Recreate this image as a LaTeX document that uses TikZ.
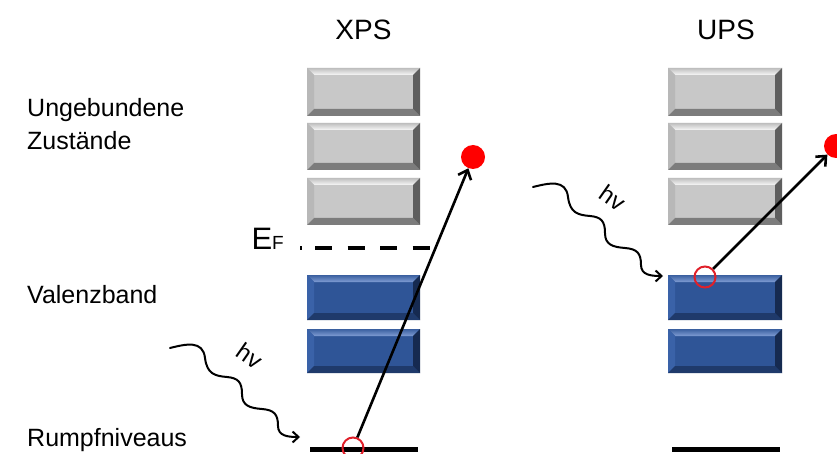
\documentclass[tikz,border=0pt]{standalone}
\usepackage{fontspec}
\setmainfont{Liberation Sans}
\usetikzlibrary{arrows.meta}
\definecolor{gbase}{HTML}{C8C8C8}
\definecolor{gtopo}{HTML}{BEBEBE}
\definecolor{gtopi}{HTML}{F8F8F8}
\definecolor{gleft}{HTML}{B8B8B8}
\definecolor{gbottom}{HTML}{7C7C7C}
\definecolor{gright}{HTML}{5E5E5E}
\definecolor{bbase}{HTML}{2F5597}
\definecolor{btopo}{HTML}{3A5F9F}
\definecolor{btopi}{HTML}{809DD4}
\definecolor{bleft}{HTML}{3A62A8}
\definecolor{bbottom}{HTML}{1F3A6B}
\definecolor{bright}{HTML}{162A50}
\definecolor{dotred}{HTML}{FF0000}
\definecolor{ringred}{HTML}{E0202A}
\newcommand\bv{7}
% name, cx, cy, w, h, prefix
\newcommand\bevbox[6]{%
  \node[boxnode, fill=#6base, minimum width=#4pt, minimum height=#5pt] (#1) at (#2,#3) {};
  \shade[top color=#6topo, bottom color=#6topi] (#1.north west) -- (#1.north east) -- ([shift={(-\bv,\bv)}]#1.north east) -- ([shift={(\bv,\bv)}]#1.north west) -- cycle;
  \fill[#6left] (#1.north west) -- ([shift={(\bv,\bv)}]#1.north west) -- ([shift={(\bv,-\bv)}]#1.south west) -- (#1.south west) -- cycle;
  \fill[#6bottom] (#1.south west) -- ([shift={(\bv,-\bv)}]#1.south west) -- ([shift={(-\bv,-\bv)}]#1.south east) -- (#1.south east) -- cycle;
  \fill[#6right] (#1.north east) -- ([shift={(-\bv,\bv)}]#1.north east) -- ([shift={(-\bv,-\bv)}]#1.south east) -- (#1.south east) -- cycle;
}
\tikzset{
  boxnode/.style={rectangle, inner sep=0pt, outer sep=0pt, draw=none},
  lbl/.style={inner sep=0pt, anchor=base west, font=\fontsize{25}{30}\selectfont},
  ttl/.style={inner sep=0pt, anchor=base, font=\fontsize{28}{32}\selectfont},
  hvlbl/.style={inner sep=0pt, font=\fontsize{24}{28}\selectfont},
  ring/.style={circle, draw=ringred, line width=2pt, minimum size=21pt, inner sep=0pt},
  dot/.style={circle, fill=dotred, minimum size=24pt, inner sep=0pt},
  level/.style={line width=5pt},
  efline/.style={line width=4pt, dash pattern=on 2pt off 13pt on 17pt off 15.5pt on 17pt off 15.5pt on 17pt off 15.5pt on 17pt off 20pt},
  photo/.style={line width=2.6pt, -{Straight Barb[length=8pt,width=14pt]}},
  wave/.style={line width=2pt, line cap=round, -{Straight Barb[length=6pt,width=11pt]}},
  wavepath/.style={insert path={(0,0) .. controls (16,-4) and (33,-8) .. (35,10)
    .. controls (37,26) and (45,28) .. (57,29)
    .. controls (68,30) and (72,34) .. (72,46)
    .. controls (72,58) and (80,60) .. (92,61)
    .. controls (104,62) and (108,66) .. (108,78)
    .. controls (108,88) and (118,89) .. (130,89)}},
}
\begin{document}
\begin{tikzpicture}[x=1pt,y=-1pt]
\useasboundingbox (0,0) rectangle (837,454);
\fill[white] (0,0) rectangle (837,454);
\clip (0,0) rectangle (837,454);
% titles
\node[ttl] (xps) at (363.5,40) {XPS};
\node[ttl] (ups) at (726,40) {UPS};
% left labels
\node[lbl] (t1) at (27,117) {Ungebundene};
\node[lbl] (t2) at (27,150) {Zustände};
\node[lbl] (t3) at (27,303) {Valenzband};
\node[lbl] (t4) at (27,446) {Rumpfniveaus};
% XPS boxes
\bevbox{xg1}{363.5}{92}{113}{48}{g}
\bevbox{xg2}{363.5}{146.5}{113}{47}{g}
\bevbox{xg3}{363.5}{201.5}{113}{47}{g}
\bevbox{xb1}{363.5}{297.5}{113}{45}{b}
\bevbox{xb2}{363.5}{351}{113}{44}{b}
% UPS boxes
\bevbox{ug1}{725}{92}{114}{48}{g}
\bevbox{ug2}{725}{146.5}{114}{47}{g}
\bevbox{ug3}{725}{201.5}{114}{47}{g}
\bevbox{ub1}{725}{297.5}{114}{45}{b}
\bevbox{ub2}{725}{351}{114}{44}{b}
% Fermi level
\node[anchor=base east, inner sep=0pt] (ef) at (284,249) {\fontsize{31}{31}\selectfont E\fontsize{19}{19}\selectfont F};
\coordinate (ef0) at (300,248);
\coordinate (ef1) at (430,248);
\draw[efline] (ef0) -- (ef1);
% core levels
\coordinate (r1a) at (310,449.5);
\coordinate (r1b) at (418,449.5);
\coordinate (r2a) at (672,449.5);
\coordinate (r2b) at (780,449.5);
\draw[level] (r1a) -- (r1b);
\draw[level] (r2a) -- (r2b);
% holes and electrons
\node[ring] (c1) at (353,448) {};
\node[dot] (d1) at (473,157) {};
\node[ring] (c2) at (705,277) {};
\node[dot] (d2) at (836,146) {};
\draw[photo] (c1) -- (d1);
\draw[photo] (c2) -- (d2);
% photons
\coordinate (w1a) at (170,348);
\coordinate (w2a) at (533,187);
\begin{scope}[shift={(w1a)}]
  \draw[wave, wavepath];
\end{scope}
\begin{scope}[shift={(w2a)}]
  \draw[wave, wavepath];
\end{scope}
\node[hvlbl, rotate=-35] (hv1) at (250,356) {hv};
\node[hvlbl, rotate=-35] (hv2) at (613,198) {hv};
\end{tikzpicture}
\end{document}
